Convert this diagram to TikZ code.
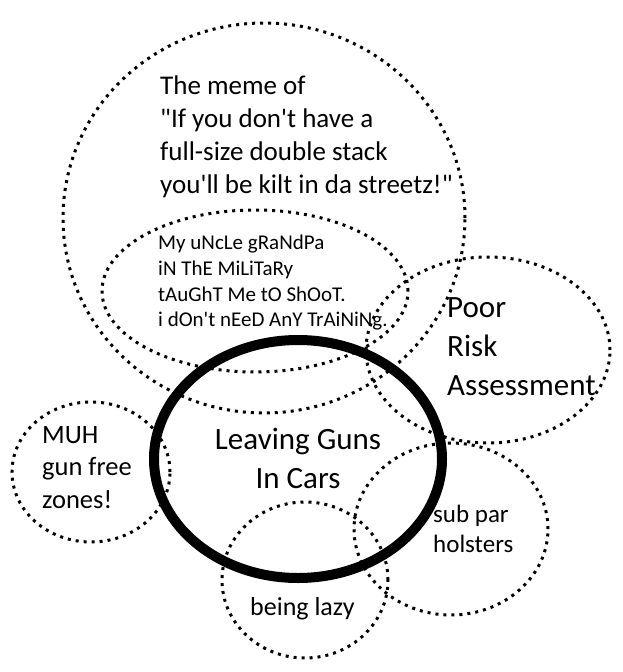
\documentclass[tikz,border=0pt]{standalone}
\usepackage{fontspec}
\setmainfont{Carlito}[Ligatures=TeXOff]
\usetikzlibrary{positioning}

\begin{document}
\begin{tikzpicture}[
  x=1pt,y=-1pt,
  every node/.style={inner sep=0pt,align=left},
  ring/.style={line width=3pt,dash pattern=on 3pt off 5pt},
  mainring/.style={line width=10pt},
  txt/.style={font=\fontsize{#1}{1.22*#1}\selectfont}
]

% Rahmen
\fill[white] (0,0) rectangle (622,672);
\useasboundingbox (0,0) rectangle (622,672);

% Kreise
\draw[ring] (264,218) ellipse [x radius=201pt,y radius=195pt];
\draw[ring] (255,291) ellipse [x radius=153pt,y radius=81pt];
\draw[ring] (488,350) ellipse [x radius=122pt,y radius=93pt];
\draw[ring] (91,472) ellipse [x radius=79pt,y radius=70pt];
\draw[ring] (451,529) ellipse [x radius=97pt,y radius=86pt];
\draw[ring] (305,580) ellipse [x radius=83pt,y radius=78pt];
\draw[mainring] (298,459) ellipse [x radius=144pt,y radius=119pt];

% Texte
\node[anchor=north west,font=\fontsize{27}{32.7}\selectfont] (meme) at (160,76)
  {The meme of\\"If you don't have a\\full-size double stack\\you'll be kilt in da streetz!"};
\node[anchor=north west,font=\fontsize{21}{25.7}\selectfont] (uncle) at (158,235)
  {My uNcLe gRaNdPa\\iN ThE MiLiTaRy\\tAuGhT Me tO ShOoT.\\i dOn't nEeD AnY TrAiNiNg.};
\node[anchor=north,align=center,font=\fontsize{31}{39}\selectfont] (cars) at (298,428)
  {Leaving Guns\\In Cars};
\node[anchor=north west,font=\fontsize{31}{39}\selectfont] (risk) at (447,297)
  {Poor\\Risk\\Assessment};
\node[anchor=north west,font=\fontsize{26.5}{32.5}\selectfont] (muh) at (42,426)
  {MUH\\gun free\\zones!};
\node[anchor=north west,font=\fontsize{25}{30}\selectfont] (holster) at (433,505)
  {sub par\\holsters};
\node[anchor=base west,font=\fontsize{26}{31}\selectfont] (lazy) at (250,615)
  {being lazy};

\end{tikzpicture}
\end{document}
